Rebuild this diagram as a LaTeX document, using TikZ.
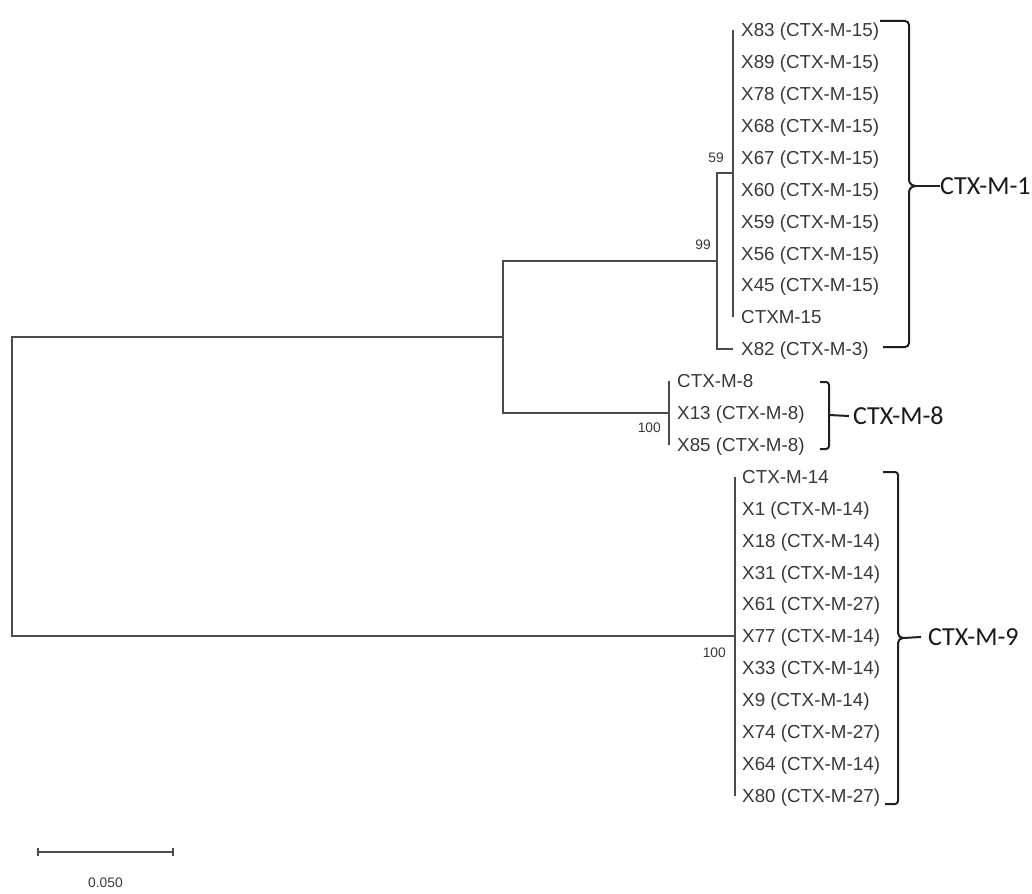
\documentclass[tikz,border=0pt]{standalone}
\usepackage{fontspec}
\setmainfont{Liberation Sans}
\newfontfamily\groupfont{Carlito}
\usetikzlibrary{calc,positioning}

\definecolor{treeline}{HTML}{4A4A4A}
\definecolor{leaftext}{HTML}{383838}

\tikzset{
  leaf/.style={inner sep=0pt, text height=13.4pt, text depth=0pt, text=leaftext,
    font=\fontsize{18.8}{20}\selectfont},
  boot/.style={inner sep=0pt, text depth=0pt, text=leaftext, font=\fontsize{13.8}{15}\selectfont},
  branch/.style={draw=treeline, line width=2pt},
  brk/.style={draw=black!88, line width=2pt},
  group/.style={anchor=west, inner sep=0pt, text=black!90, font=\groupfont\fontsize{26}{28}\selectfont}
}

\begin{document}
\begin{tikzpicture}[x=1pt, y=-1pt]
  \useasboundingbox (0,0) rectangle (1032,893);

  % leaves
  \foreach \lab [count=\i from 0] in {X83 (CTX-M-15), X89 (CTX-M-15), X78 (CTX-M-15),
      X68 (CTX-M-15), X67 (CTX-M-15), X60 (CTX-M-15), X59 (CTX-M-15), X56 (CTX-M-15),
      X45 (CTX-M-15), CTXM-15, X82 (CTX-M-3)} {
    \coordinate (t\i) at (733,30+31.9*\i);
    \node[leaf, right=8pt of t\i] (l\i) {\lab};
  }
  \foreach \lab [count=\i from 11] in {CTX-M-8, X13 (CTX-M-8), X85 (CTX-M-8)} {
    \coordinate (t\i) at (669,30+31.9*\i);
    \node[leaf, right=8pt of t\i] (l\i) {\lab};
  }
  \foreach \lab [count=\i from 14] in {CTX-M-14, X1 (CTX-M-14), X18 (CTX-M-14),
      X31 (CTX-M-14), X61 (CTX-M-27), X77 (CTX-M-14), X33 (CTX-M-14), X9 (CTX-M-14),
      X74 (CTX-M-27), X64 (CTX-M-14), X80 (CTX-M-27)} {
    \coordinate (t\i) at (735,30+31.9*\i);
    \node[leaf, right=7pt of t\i] (l\i) {\lab};
  }

  % inner nodes
  \coordinate (root) at (12,486.6);
  \coordinate (n1) at (503,337);
  \coordinate (n99) at (717,261.3);
  \coordinate (n59) at (733,173.5);
  \coordinate (m8) at (669,412.8);
  \coordinate (m9) at (735,636.1);

  \draw[branch] (root) |- (n1);
  \draw[branch] (root) |- (m9);
  \draw[branch] (n1) |- (n99);
  \draw[branch] (n1) |- (m8);
  \draw[branch] (n99) |- (n59);
  \draw[branch] (n99) |- (t10);
  \foreach \i in {0,...,9} \draw[branch] (n59) |- (t\i);
  \foreach \i in {11,12,13} \draw[branch] (m8) |- (t\i);
  \foreach \i in {14,...,24} \draw[branch] (m9) |- (t\i);

  % bootstrap values
  \node[boot, above left=10.5pt and 9pt of n59] (b59) {59};
  \node[boot, above left=11.3pt and 6pt of n99] (b99) {99};
  \node[boot, below left=10pt and 8pt of m8] (b8) {100};
  \node[boot, below left=12pt and 9pt of m9] (b9) {100};

  % groups
  \node[group] (g1) at (940,186) {CTX-M-1};
  \node[group] (g8) at (853,416) {CTX-M-8};
  \node[group] (g9) at (928,637) {CTX-M-9};

  \draw[brk] (880,21) -- (905,21) to[out=0,in=90] (909,25) -- (909,180)
    to[out=-90,in=180] (916,186) to[out=180,in=90] (909,192) -- (909,343)
    to[out=-90,in=0] (905,347) -- (883,347);
  \draw[brk] (916,186) -- (g1.west);

  \draw[brk] (820,382) -- (826,382) to[out=0,in=90] (829,385) -- (829,446)
    to[out=-90,in=0] (826,449) -- (820,449);
  \draw[brk] (829,415) -- ($(g8.west)+(-4,0)$);

  \draw[brk] (883,472) -- (895,472) to[out=0,in=90] (898,475) -- (898,633)
    to[out=-90,in=180] (903,638) to[out=180,in=90] (898,643) -- (898,801)
    to[out=-90,in=0] (895,804) -- (885,804);
  \draw[brk] (903,638) -- ($(g9.west)+(-7,0)$);

  % scale bar
  \coordinate (s0) at (38,852);
  \coordinate (s1) at (173,852);
  \draw[branch] (s0) -- (s1);
  \draw[branch] ($(s0)+(0,-4)$) -- ($(s0)+(0,4)$);
  \draw[branch] ($(s1)+(0,-4)$) -- ($(s1)+(0,4)$);
  \node[boot] (sc) at (105.5,883) {0.050};
\end{tikzpicture}
\end{document}
